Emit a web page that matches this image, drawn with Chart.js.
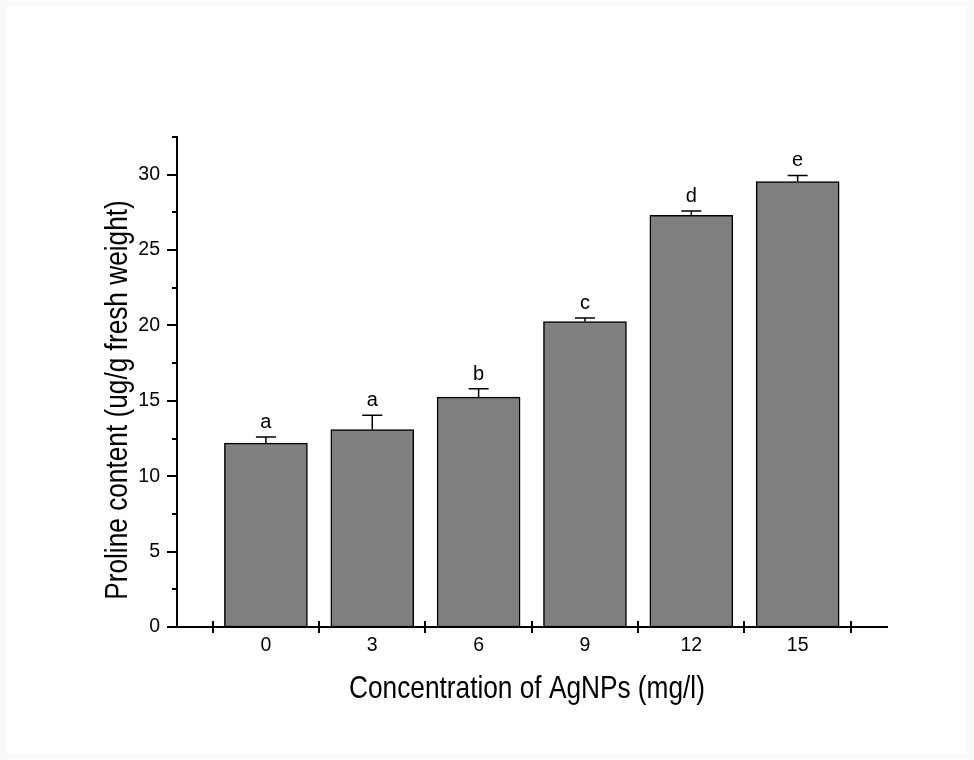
<!DOCTYPE html>
<html>
<head>
<meta charset="utf-8">
<script src="https://cdn.jsdelivr.net/npm/chart.js@4.4.1/dist/chart.umd.min.js"></script>
<style>
  html, body { margin: 0; padding: 0; background: #f9f9f9; }
  #wrap { width: 974px; height: 760px; }
</style>
</head>
<body>
<div id="wrap"><canvas id="chart" width="974" height="760"></canvas></div>
<script>
// data
const concentrations = ['0', '3', '6', '9', '12', '15'];
const proline = [12.2, 13.1, 15.25, 20.25, 27.3, 29.55];
const errors = [0.4, 0.95, 0.55, 0.25, 0.3, 0.4];
const letters = ['a', 'a', 'b', 'c', 'd', 'e'];
const yTicks = [0, 5, 10, 15, 20, 25, 30];

const xTitle = 'Concentration of AgNPs (mg/l)';
const yTitle = 'Proline content (ug/g fresh weight)';
const FONT = "'Liberation Sans', Arial, sans-serif";
const TITLE_SQUEEZE = 0.82; // titles are in a condensed face, no Arial Narrow here

function drawText(ctx, text, x, y, size, align, baseline, squeeze) {
    ctx.save();
    ctx.font = size + 'px ' + FONT;
    ctx.textAlign = align;
    ctx.textBaseline = baseline;
    ctx.translate(x, y);
    ctx.scale(squeeze || 1, 1);
    ctx.fillText(text, 0, 0);
    ctx.restore();
}

// background: faint grey frame round a white sheet
const sheetPlugin = {
    id: 'sheet',
    beforeDraw(chart) {
        const ctx = chart.ctx;
        ctx.save();
        ctx.fillStyle = '#f9f9f9';
        ctx.fillRect(0, 0, chart.width, chart.height);
        ctx.fillStyle = '#ffffff';
        ctx.fillRect(7, 6, chart.width - 14, chart.height - 12);
        ctx.restore();
    }
};

// error bars, letters, tick marks, tick labels and axis titles
const decorPlugin = {
    id: 'decor',
    afterDraw(chart) {
        const ctx = chart.ctx;
        const x = chart.scales.x;
        const y = chart.scales.y;
        ctx.save();
        ctx.strokeStyle = '#000';
        ctx.fillStyle = '#000';

        // error bars (upper only) + significance letters
        ctx.lineWidth = 1.5;
        proline.forEach((v, i) => {
            const px = x.getPixelForValue(i);
            const top = y.getPixelForValue(v + errors[i]);
            const base = y.getPixelForValue(v);
            ctx.beginPath();
            ctx.moveTo(px, base);
            ctx.lineTo(px, top);
            ctx.moveTo(px - 10, top);
            ctx.lineTo(px + 10, top);
            ctx.stroke();
            drawText(ctx, letters[i], px, top - 9, 20, 'center', 'alphabetic');
        });

        // y ticks: major every 5 with labels, minor halfway
        ctx.lineWidth = 2;
        for (let v = 0; v <= y.max + 0.01; v += 2.5) {
            const py = Math.round(y.getPixelForValue(v));
            const len = v % 5 === 0 ? 10 : 5;
            ctx.beginPath();
            ctx.moveTo(y.right - len, py);
            ctx.lineTo(y.right, py);
            ctx.stroke();
        }
        yTicks.forEach(v => {
            drawText(ctx, String(v), y.right - 17, y.getPixelForValue(v), 19.5, 'right', 'middle');
        });

        // x ticks between categories, crossing the axis
        for (let k = -0.5; k <= concentrations.length - 0.5; k += 1) {
            const px = Math.round(x.getPixelForValue(k));
            ctx.beginPath();
            ctx.moveTo(px, x.top - 6);
            ctx.lineTo(px, x.top + 6);
            ctx.stroke();
        }
        concentrations.forEach((c, i) => {
            drawText(ctx, c, x.getPixelForValue(i), x.top + 19, 19.5, 'center', 'middle');
        });

        // axis titles
        drawText(ctx, xTitle, 527, 689, 32, 'center', 'middle', TITLE_SQUEEZE);
        ctx.translate(118, 400);
        ctx.rotate(-Math.PI / 2);
        drawText(ctx, yTitle, 0, 0, 32, 'center', 'middle', TITLE_SQUEEZE);
        ctx.restore();
    }
};

new Chart(document.getElementById('chart'), {
    type: 'bar',
    data: {
        datasets: [{
            data: proline.map((v, i) => ({ x: i, y: v })),
            backgroundColor: '#808080',
            borderColor: '#000000',
            borderWidth: 1.5,
            borderSkipped: false,
            barThickness: 83
        }]
    },
    options: {
        responsive: false,
        animation: false,
        events: [],
        layout: { padding: { top: 137, right: 87, left: 0, bottom: 0 } },
        plugins: { legend: { display: false }, tooltip: { enabled: false } },
        scales: {
            x: {
                type: 'linear',
                offset: false,
                min: -0.836,
                max: 5.84,
                grid: { display: false, drawTicks: false },
                border: { display: true, color: '#000', width: 2 },
                afterBuildTicks: (s) => { s.ticks = concentrations.map((c, i) => ({ value: i })); },
                afterFit: (s) => { s.height = 133; },
                ticks: { display: false }
            },
            y: {
                min: 0,
                max: 32.5,
                grid: { display: false, drawTicks: false },
                border: { display: true, color: '#000', width: 2 },
                afterBuildTicks: (s) => { s.ticks = yTicks.map(v => ({ value: v })); },
                afterFit: (s) => { s.width = 177; },
                ticks: { display: false }
            }
        }
    },
    plugins: [sheetPlugin, decorPlugin]
});
</script>
</body>
</html>
